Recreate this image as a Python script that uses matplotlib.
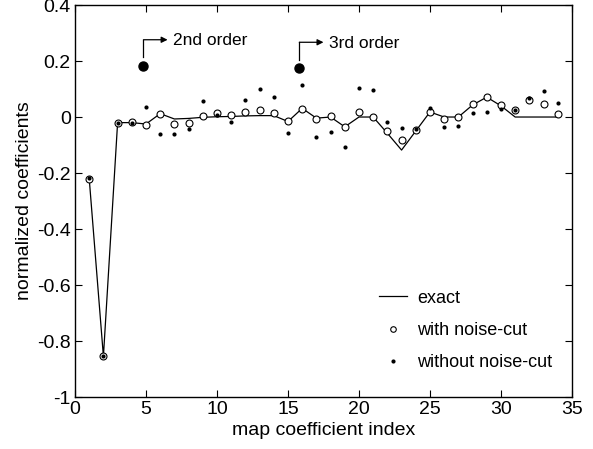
import numpy as np
import matplotlib.pyplot as plt
from matplotlib.lines import Line2D

plt.rcParams['font.family'] = ['Liberation Sans', 'DejaVu Sans']

# map coefficient index
idx = np.arange(1, 35)

exact = [-0.22, -0.855, -0.02, -0.02, -0.025, 0.012, -0.007, -0.005, -0.001,
         0.001, 0.002, 0.004, 0.005, 0.005, -0.016, 0.031, -0.004, 0.0,
         -0.035, 0.0, 0.0, -0.058, -0.118, -0.05, 0.018, 0.0, 0.0, 0.043,
         0.071, 0.04, 0.0, 0.0, 0.0, 0.0]

with_cut = [-0.223, -0.855, -0.02, -0.019, -0.027, 0.011, -0.026, -0.02,
            0.004, 0.014, 0.006, 0.017, 0.026, 0.015, -0.015, 0.028, -0.007,
            0.004, -0.035, 0.017, 0.001, -0.05, -0.082, -0.045, 0.019,
            -0.008, 0.001, 0.047, 0.071, 0.044, 0.024, 0.062, 0.048, 0.012]

without_cut = [-0.217, -0.855, -0.02, -0.02, 0.035, -0.062, -0.061, -0.041,
               0.058, 0.006, -0.018, 0.06, 0.099, 0.071, -0.056, 0.115,
               -0.07, -0.053, -0.107, 0.103, 0.097, -0.019, -0.038, -0.044,
               0.032, -0.035, -0.032, 0.015, 0.019, 0.03, 0.025, 0.068,
               0.093, 0.051]

# higher order terms
order_x = [4.82, 15.8]
order_y = [0.183, 0.174]
order_lbl = ['2nd order', '3rd order']

fig = plt.figure(figsize=(5.93, 4.49), dpi=100)
ax = fig.add_axes([0.1265, 0.1158, 0.838, 0.873])

ax.plot(idx, exact, 'k-', lw=0.9)
ax.plot(idx, with_cut, 'o', ms=5, mfc='white', mec='k', mew=0.8)
ax.plot(idx, without_cut, 'o', ms=3, mfc='k', mec='k', mew=0)
ax.plot(order_x, order_y, 'o', ms=6.5, mfc='k', mec='k')

# bent arrows pointing at the labels
for xx, yy, lbl in zip(order_x, order_y, order_lbl):
    top = yy + 0.093
    ax.plot([xx, xx], [yy + 0.03, top], 'k-', lw=0.9)
    ax.annotate('', xy=(xx + 1.7, top), xytext=(xx, top),
                arrowprops=dict(arrowstyle='-|>', color='k', lw=0.9,
                                mutation_scale=9, shrinkA=0, shrinkB=0))
    ax.text(xx + 2.1, top - 0.004, lbl, fontsize=12.5, va='center', ha='left')

ax.set_xlim(0, 35)
ax.set_ylim(-1, 0.4)
ax.set_xticks(np.arange(0, 36, 5))
ax.set_yticks([-1, -0.8, -0.6, -0.4, -0.2, 0, 0.2, 0.4])
ax.set_yticklabels(['-1', '-0.8', '-0.6', '-0.4', '-0.2', '0', '0.2', '0.4'])
ax.tick_params(direction='in', top=True, right=True, length=5, width=0.8,
               labelsize=14, pad=3)
for s in ax.spines.values():
    s.set_linewidth(1.0)

ax.set_xlabel('map coefficient index', fontsize=14, labelpad=3)
ax.set_ylabel('normalized coefficients', fontsize=14, labelpad=3)

handles = [Line2D([], [], color='k', lw=0.9),
           Line2D([], [], ls='', marker='o', ms=4, mfc='white', mec='k', mew=0.8),
           Line2D([], [], ls='', marker='o', ms=3, mfc='k', mec='k', mew=0)]
ax.legend(handles, ['exact', 'with noise-cut', 'without noise-cut'],
          loc='upper left', bbox_to_anchor=(0.58, 0.315), frameon=False,
          fontsize=13, handlelength=1.5, labelspacing=0.85, handletextpad=0.6)

fig.savefig('out.png', dpi=100)
